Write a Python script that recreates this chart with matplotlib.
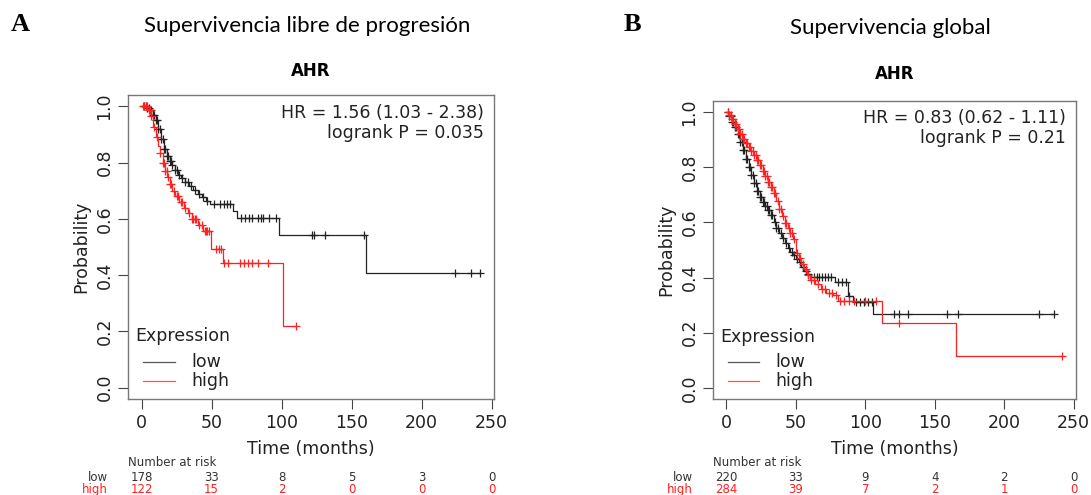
import numpy as np
import matplotlib.pyplot as plt
from matplotlib.transforms import blended_transform_factory

# ---- data ----
# panel A: progression-free survival
a_low_t = [0, 4, 6, 8, 10, 12, 14, 16, 18, 20, 22, 24, 26, 28, 31, 34, 37, 40, 43, 46, 49, 65, 68, 98.5, 160, 242]
a_low_s = [1.0, 0.994, 0.988, 0.970, 0.950, 0.918, 0.885, 0.850, 0.825, 0.805, 0.790, 0.772, 0.757, 0.745,
           0.732, 0.718, 0.703, 0.690, 0.678, 0.665, 0.652, 0.628, 0.604, 0.544, 0.407, 0.407]
a_low_cens = [2, 3, 4, 5, 6, 7, 8, 9, 10, 11, 12, 13, 14, 15, 16, 17, 18, 19, 20, 21, 22, 24, 25, 27, 29, 31,
              33, 35, 38, 41, 44, 47, 52, 56, 59, 61, 63, 71, 74, 77, 79, 83, 85, 87, 91, 96, 122, 123, 131,
              159, 224, 235, 242]
a_high_t = [0, 5, 7, 8.5, 10, 11.5, 13, 15, 17, 18.5, 20, 22, 24, 27, 30, 33, 36, 40, 44, 49.5, 58, 101, 110]
a_high_s = [1.0, 0.988, 0.965, 0.925, 0.890, 0.858, 0.835, 0.800, 0.770, 0.750, 0.725, 0.700, 0.680, 0.660,
            0.640, 0.620, 0.600, 0.578, 0.558, 0.492, 0.442, 0.219, 0.219]
a_high_cens = [1, 2, 3, 4, 5, 6, 7, 9, 11, 13, 15, 16, 17, 18, 19, 20, 21, 23, 25, 26, 28, 29, 31, 34, 36, 37,
               38, 39, 41, 43, 45, 46, 47, 48, 53, 55, 57, 59, 62, 70, 73, 76, 79, 83, 90, 110]
a_hr = "HR = 1.56 (1.03 - 2.38)"
a_p = "logrank P = 0.035"
a_risk_low = [178, 33, 8, 5, 3, 0]
a_risk_high = [122, 15, 2, 0, 0, 0]

# panel B: overall survival
b_low_t = [0, 2, 4, 6, 8, 10, 12, 14, 16, 18, 20, 22, 24, 26, 28, 30, 32, 34, 36, 38, 40, 42, 44, 46, 48,
           50, 52, 54, 56, 58, 61, 78, 87.5, 91, 105.5, 236]
b_low_s = [1.0, 0.985, 0.965, 0.945, 0.920, 0.893, 0.862, 0.830, 0.800, 0.770, 0.742, 0.715, 0.692, 0.675,
           0.660, 0.645, 0.625, 0.600, 0.580, 0.562, 0.545, 0.525, 0.508, 0.492, 0.480, 0.468, 0.455, 0.440,
           0.425, 0.413, 0.403, 0.385, 0.335, 0.312, 0.267, 0.267]
b_low_cens = [1, 2, 3, 4, 5, 6, 7, 8, 9, 10, 11, 12, 13, 14, 15, 16, 17, 18, 19, 20, 21, 22, 23, 24, 25, 26,
              27, 28, 29, 30, 31, 32, 33, 35, 36, 37, 39, 41, 43, 45, 47, 49, 51, 53, 55, 57, 59, 63, 65, 67,
              69, 71, 73, 75, 80, 83, 86, 88, 93, 96, 99, 102, 105, 121, 124, 131, 159, 167, 225, 236]
b_high_t = [0, 2, 4, 6, 8, 10, 12, 14, 16, 18, 20, 22, 24, 26, 28, 30, 32, 34, 36, 38, 40, 42, 44, 46, 48,
            50, 52, 54, 56, 58, 60, 64, 68, 72, 77, 80, 112, 165, 242]
b_high_s = [1.0, 0.988, 0.975, 0.958, 0.940, 0.920, 0.902, 0.886, 0.872, 0.858, 0.843, 0.826, 0.808, 0.788,
            0.768, 0.748, 0.728, 0.705, 0.678, 0.648, 0.622, 0.598, 0.578, 0.560, 0.540, 0.490, 0.470, 0.450,
            0.432, 0.410, 0.392, 0.378, 0.360, 0.345, 0.336, 0.316, 0.236, 0.116, 0.116]
b_high_cens = [1, 2, 3, 4, 5, 6, 7, 8, 9, 10, 11, 12, 13, 14, 15, 16, 17, 18, 19, 20, 21, 22, 23, 24, 25, 26,
               27, 28, 29, 30, 31, 32, 33, 34, 35, 37, 38, 39, 41, 42, 43, 45, 46, 47, 49, 51, 53, 55, 57, 59,
               61, 63, 66, 69, 71, 74, 76, 79, 82, 85, 88, 92, 100, 108, 124, 242]
b_hr = "HR = 0.83 (0.62 - 1.11)"
b_p = "logrank P = 0.21"
b_risk_low = [220, 33, 9, 4, 2, 0]
b_risk_high = [284, 39, 7, 2, 1, 0]

risk_times = [0, 50, 100, 150, 200, 250]
gene = "AHR"
groups = ["low", "high"]
low_col = "#222222"
high_col = "#ff2020"

fig = plt.figure(figsize=(10.91, 4.95), dpi=100)


def step_at(t, s, x):
    idx = np.searchsorted(t, x, side="right") - 1
    return np.asarray(s)[idx]


def km_panel(rect, low_t, low_s, low_c, high_t, high_s, high_c, hr, p, r_low, r_high, title_pad):
    ax = fig.add_axes(rect)
    for t, s, c, col in [(low_t, low_s, low_c, low_col), (high_t, high_s, high_c, high_col)]:
        ax.step(t, s, where="post", color=col, lw=0.9)
        c = np.array(c, dtype=float)
        ax.plot(c, step_at(t, s, c), ls="none", marker="+", ms=6, mew=0.9, color=col)
    ax.set_xlim(-9.7, 251.7)
    ax.set_ylim(-0.04, 1.04)
    ax.set_xticks(risk_times)
    ax.set_yticks([0, 0.2, 0.4, 0.6, 0.8, 1.0])
    ax.set_yticklabels(["0.0", "0.2", "0.4", "0.6", "0.8", "1.0"], rotation=90, va="center")
    ax.tick_params(labelsize=12.5, length=7, width=0.8, color="#444444", labelcolor="#222222")
    for sp in ax.spines.values():
        sp.set_color("#777777")
        sp.set_linewidth(1.0)
    ax.set_xlabel("Time (months)", fontsize=12.5, color="#222222", labelpad=6)
    ax.set_ylabel("Probability", fontsize=12.5, color="#222222", labelpad=4)
    ax.set_title(gene, fontsize=12, fontweight="bold", pad=title_pad)
    ax.text(0.972, 0.972, hr + "\n" + p, transform=ax.transAxes, ha="right", va="top",
            fontsize=12.5, color="#222222", linespacing=1.15)

    # legend block (R style)
    ax.text(0.02, 0.207, "Expression", transform=ax.transAxes, fontsize=12.5, color="#222222",
            ha="left", va="center")
    for name, col, yy in zip(groups, ["#555555", "#ff5050"], [0.123, 0.059]):
        ax.plot([0.041, 0.128], [yy, yy], transform=ax.transAxes, color=col, lw=0.9)
        ax.text(0.172, yy, name, transform=ax.transAxes, fontsize=12.5, color="#222222",
                ha="left", va="center")

    # number at risk table
    tr = blended_transform_factory(ax.transData, fig.transFigure)
    ax.text(-9.5, 0.066, "Number at risk", transform=tr, fontsize=8.5, color="#333333", ha="left", va="center")
    ax.text(-24, 0.036, "low", transform=tr, fontsize=8.5, color="#333333", ha="right", va="center")
    ax.text(-24, 0.012, "high", transform=tr, fontsize=8.5, color=high_col, ha="right", va="center")
    for x, nl, nh in zip(risk_times, r_low, r_high):
        ax.text(x, 0.036, str(nl), transform=tr, fontsize=8.5, color="#333333", ha="center", va="center")
        ax.text(x, 0.012, str(nh), transform=tr, fontsize=8.5, color=high_col, ha="center", va="center")
    return ax


km_panel([0.1173, 0.194, 0.3355, 0.614], a_low_t, a_low_s, a_low_cens, a_high_t, a_high_s, a_high_cens,
         a_hr, a_p, a_risk_low, a_risk_high, 14)
km_panel([0.6535, 0.194, 0.3327, 0.602], b_low_t, b_low_s, b_low_cens, b_high_t, b_high_s, b_high_cens,
         b_hr, b_p, b_risk_low, b_risk_high, 16)

# panel letters and headings
fig.text(0.010, 0.951, "A", fontsize=19, fontweight="bold", family="Liberation Serif", va="center")
fig.text(0.572, 0.951, "B", fontsize=19, fontweight="bold", family="Liberation Serif", va="center")
fig.text(0.282, 0.948, "Supervivencia libre de progresión", fontsize=16, family="Lato", ha="center", va="center")
fig.text(0.816, 0.944, "Supervivencia global", fontsize=16, family="Lato", ha="center", va="center")

fig.savefig("out.png", dpi=100)
